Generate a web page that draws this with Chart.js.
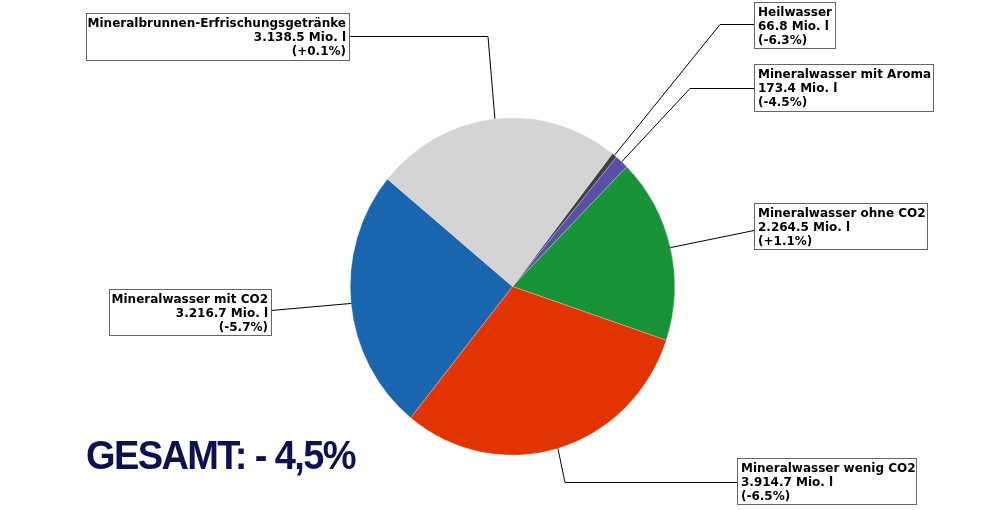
<!DOCTYPE html>
<html>
<head>
<meta charset="utf-8">
<script src="https://cdn.jsdelivr.net/npm/chart.js@4"></script>
<style>
  html, body { margin: 0; padding: 0; background: #fff; }
  #wrap { width: 1000px; height: 510px; }
</style>
</head>
<body>
<div id="wrap"><canvas id="pie" width="1000" height="510"></canvas></div>
<script>
// data (Mio. l, change vs. prior year in %)
const categories = ['Heilwasser', 'Mineralwasser mit Aroma', 'Mineralwasser ohne CO2',
                    'Mineralwasser wenig CO2', 'Mineralwasser mit CO2', 'Mineralbrunnen-Erfrischungsgetränke'];
const volumes = [66.8, 173.4, 2264.5, 3914.7, 3216.7, 3138.5];
const changes = [-6.3, -4.5, 1.1, -6.5, -5.7, 0.1];
const totalLabel = 'GESAMT: - 4,5%';

const colors = ['#404040', '#5a4fa6', '#189236', '#e23400', '#1a66ae', '#d4d4d4'];

// label boxes: [left, top, right, bottom], where the leader meets the box, optional elbow
const boxes = [
    {rect: [754, 2, 835, 48], align: 'left', attach: [754, 24], elbow: [720, 24]},
    {rect: [754, 64, 933, 111], align: 'left', attach: [754, 88], elbow: [690, 88]},
    {rect: [754, 203, 927, 249], align: 'left', attach: [754, 230], elbow: null},
    {rect: [737, 458, 916, 504], align: 'left', attach: [737, 482], elbow: [565, 482]},
    {rect: [109, 289, 271, 335], align: 'right', attach: [271, 310], elbow: null},
    {rect: [86, 13, 349, 60], align: 'right', attach: [349, 36], elbow: [488, 36]}
];

const SY = 1.04;  // the reference pie is slightly taller than wide

function fmtVolume(v) {
    const parts = v.toFixed(1).split('.');
    const intPart = parts[0].replace(/\B(?=(\d{3})+(?!\d))/g, '.');
    return intPart + '.' + parts[1] + ' Mio. l';
}

function fmtChange(c) {
    return '(' + (c >= 0 ? '+' : '') + c.toFixed(1) + '%)';
}

const stretchPlugin = {
    id: 'stretch',
    beforeDatasetsDraw(chart) {
        const arc = chart.getDatasetMeta(0).data[0];
        const ctx = chart.ctx;
        ctx.save();
        ctx.translate(arc.x, arc.y);
        ctx.scale(1, SY);
        ctx.translate(-arc.x, -arc.y);
    },
    afterDatasetsDraw(chart) {
        chart.ctx.restore();
    }
};

const labelPlugin = {
    id: 'labels',
    afterDraw(chart) {
        const ctx = chart.ctx;
        const arcs = chart.getDatasetMeta(0).data;
        ctx.save();
        arcs.forEach((arc, i) => {
            const b = boxes[i];
            const mid = (arc.startAngle + arc.endAngle) / 2;
            const px = arc.x + Math.cos(mid) * arc.outerRadius;
            const py = arc.y + Math.sin(mid) * arc.outerRadius * SY;

            // leader line
            ctx.strokeStyle = '#000';
            ctx.lineWidth = 1;
            ctx.beginPath();
            ctx.moveTo(px, py);
            if (b.elbow) ctx.lineTo(b.elbow[0], b.elbow[1] + 0.5);
            ctx.lineTo(b.attach[0], b.attach[1] + 0.5);
            ctx.stroke();

            // box
            const [l, t, r, bt] = b.rect;
            ctx.fillStyle = '#fff';
            ctx.fillRect(l, t, r - l, bt - t);
            ctx.strokeStyle = '#666';
            ctx.strokeRect(l + 0.5, t + 0.5, r - l, bt - t);

            // text
            const lines = [categories[i], fmtVolume(volumes[i]), fmtChange(changes[i])];
            ctx.fillStyle = '#000';
            ctx.font = 'bold 12px "DejaVu Sans"';
            ctx.textBaseline = 'alphabetic';
            ctx.textAlign = b.align;
            const tx = b.align === 'left' ? l + 4 : r - 3;
            lines.forEach((s, k) => ctx.fillText(s, tx, t + 13.5 + k * 14));
        });

        // total
        ctx.fillStyle = '#0c1250';
        ctx.textAlign = 'left';
        ctx.font = 'bold 38px "Liberation Sans"';
        ctx.letterSpacing = '-1.6px';
        ctx.translate(86, 469);
        ctx.scale(1, 1.05);
        ctx.fillText(totalLabel, 0, 0);
        ctx.restore();
    }
};

new Chart(document.getElementById('pie'), {
    type: 'pie',
    data: {
        labels: categories,
        datasets: [{
            data: volumes,
            backgroundColor: colors,
            borderColor: 'rgba(255,255,255,0.5)',
            borderWidth: 0.5
        }]
    },
    options: {
        responsive: false,
        animation: false,
        devicePixelRatio: 1,
        rotation: 38,
        layout: {padding: {left: 350, right: 325, top: 124, bottom: 61}},
        plugins: {
            legend: {display: false},
            tooltip: {enabled: false}
        }
    },
    plugins: [stretchPlugin, labelPlugin]
});
</script>
</body>
</html>
